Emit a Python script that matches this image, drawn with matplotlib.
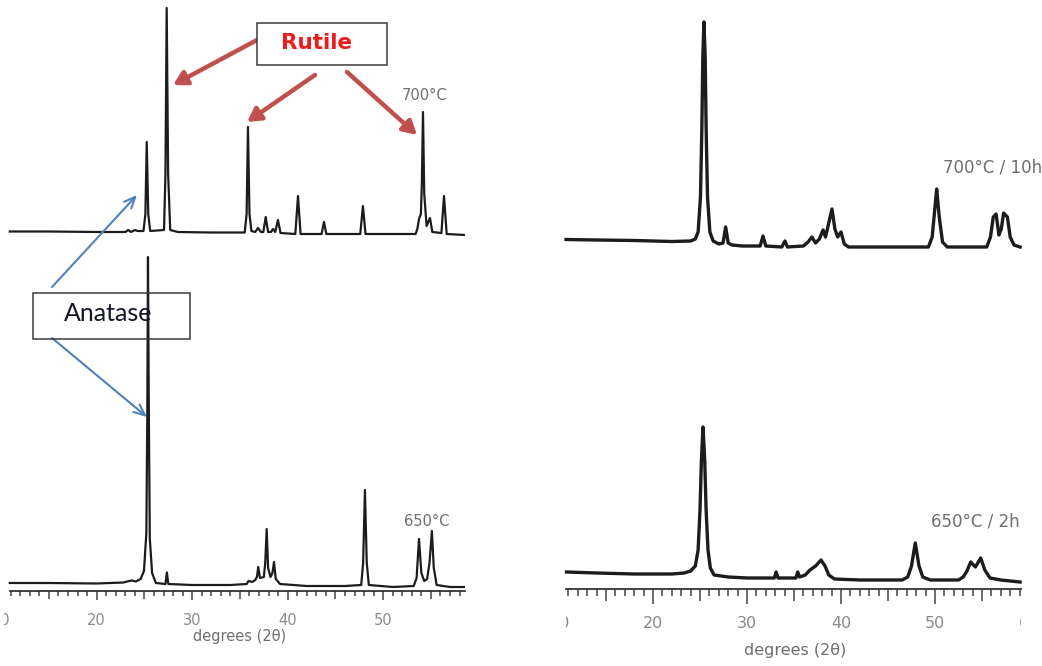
import matplotlib
matplotlib.use("Agg")
import matplotlib.pyplot as plt
import numpy as np
from matplotlib.patches import Rectangle
from matplotlib.ticker import FixedLocator, FixedFormatter
from matplotlib.transforms import Bbox, TransformedBbox

W, H = 1042, 666

# ---- data (2theta in degrees, intensity in arbitrary units) ----
# left panel, 700 C
left_700_x = [10.9, 15, 20, 23.0, 23.3, 23.6, 24.0, 24.3, 24.9, 25.1, 25.24, 25.4, 25.6,
              27.05, 27.2, 27.33, 27.48, 27.7, 28.5, 32, 35.5, 35.7, 35.84, 36.0, 36.2,
              36.6, 36.89, 37.2, 37.45, 37.7, 37.95, 38.25, 38.46, 38.7, 38.98, 39.25,
              40.8, 41.08, 41.35, 43.55, 43.8, 44.05, 47.6, 47.88, 48.15, 53.4, 53.6,
              53.75, 53.95, 54.05, 54.17, 54.3, 54.55, 54.9, 55.15, 56.1, 56.37, 56.65, 58.6]
left_700_y = [2.5, 2.5, 2, 2, 4, 2, 4, 3, 3, 20, 92, 20, 3,
              4, 60, 226, 60, 4, 2, 1.5, 1.5, 20, 107, 20, 3,
              2, 6, 2, 2, 17, 2, 2, 5, 2, 14, 1,
              0, 38, 0, 0, 12, 0, 0, 28, 0, 0, 6,
              15, 20, 50, 122, 40, 8, 16, 2, 1, 38, 0, -1]

# left panel, 650 C
left_650_x = [10.9, 15, 20, 22.8, 23.4, 23.7, 24.1, 24.6, 24.95, 25.2, 25.3, 25.37, 25.46,
              25.56, 25.8, 26.2, 27.2, 27.35, 27.5, 30, 34, 35.7, 35.9, 36.3, 36.6, 36.78,
              36.92, 37.1, 37.5, 37.65, 37.8, 37.95, 38.2, 38.4, 38.57, 38.75, 39.2, 42, 46,
              47.7, 47.9, 48.09, 48.28, 48.5, 51, 53.2, 53.5, 53.75, 54.0, 54.3, 54.6, 54.85,
              55.1, 55.3, 55.6, 57, 58.6]
left_650_y = [0, 0, -0.5, 0.5, 2, 2.5, 1.5, 4, 12, 50, 170, 326, 170,
              45, 10, 0, -1, 10.5, -1, -2, -2, -1, 2, 1, 3, 6,
              16, 5, 6, 20, 54, 15, 6, 10, 21, 4, -1, -3, -3,
              -2, 20, 93, 20, -2, -4, -3, 5, 44, 10, 2, 4, 20,
              52, 15, -2, -4, -4]

# right panel, 700 C / 10 h
right_700_x = [10.75, 14, 18, 22, 24.0, 24.5, 24.8, 25.05, 25.2, 25.3, 25.42, 25.55, 25.65,
               25.8, 26.05, 26.4, 27.0, 27.45, 27.73, 28.0, 28.4, 29.5, 31.4, 31.7, 32.0,
               33.7, 34.04, 34.3, 36.0, 36.5, 36.9, 37.3, 37.7, 38.09, 38.35, 38.6, 39.04,
               39.35, 39.65, 40.0, 40.35, 40.8, 45, 49.3, 49.7, 50.0, 50.18, 50.45, 50.8,
               51.3, 55.5, 55.9, 56.2, 56.5, 56.8, 57.05, 57.3, 57.7, 58.0, 58.4, 59.05]
right_700_y = [7.5, 7, 6.5, 5.5, 6, 8, 15, 50, 120, 190, 225, 190, 120,
               50, 15, 6, 3, 4, 20, 4, 2, 1, 1, 11, 1,
               0, 6, 0, 1, 5, 10, 4, 8, 17, 10, 20, 38,
               18, 10, 15, 3, 0, 0, 0, 10, 40, 58, 30, 5,
               0, 0, 10, 30, 33, 12, 18, 34, 30, 10, 2, 0]

# right panel, 650 C / 2 h
right_650_x = [10.8, 14, 18, 22, 23.3, 24.0, 24.5, 24.8, 25.0, 25.15, 25.32, 25.5, 25.65,
               25.85, 26.1, 26.5, 28, 30, 32.9, 33.1, 33.3, 35.2, 35.4, 35.6, 36.2, 36.7,
               37.3, 37.87, 38.3, 38.7, 39.3, 42, 46.5, 47.1, 47.5, 47.9, 48.3, 48.7, 49.5,
               52.5, 53.0, 53.4, 53.8, 54.3, 54.86, 55.3, 55.85, 57, 59.05]
right_650_y = [8, 7, 6, 6, 7, 9, 14, 30, 70, 120, 153, 120, 70,
               30, 12, 5, 3, 2, 2, 8, 2, 2, 8, 3, 5, 10,
               14, 20, 14, 5, 1, 0, 0, 3, 14, 37, 14, 3, 0,
               0, 3, 9, 18, 13, 22, 10, 2, 0, -2]

left_labels = ["700°C", "650°C"]
right_labels = ["700°C / 10h", "650°C / 2h"]
major_ticks = [10, 20, 30, 40, 50, 60]
minor_ticks = [t for t in range(11, 60) if t % 10 != 0]

LINE = "#1c1c1c"
GREY_TXT = "#6e6e6e"
TICK_TXT = "#8a8a8a"
RED_ARROW = "#c0504d"
BLUE_ARROW = "#4f81bd"

fig = plt.figure(figsize=(W / 100, H / 100), dpi=100)
fig.patch.set_facecolor("white")


def px_rect(x0, x1, y_axis):
    # axes rectangle in figure fraction from pixel columns / axis row
    return [x0 / W, (H - y_axis) / H, (x1 - x0) / W, y_axis / H]


def style_axis(ax, x_lo, x_hi, spine_lo, spine_hi, lens, pad, fs):
    ax.set_xlim(x_lo, x_hi)
    for s in ["left", "right", "top"]:
        ax.spines[s].set_visible(False)
    ax.spines["bottom"].set_color("#333333")
    ax.spines["bottom"].set_linewidth(1.3)
    ax.spines["bottom"].set_bounds(spine_lo, spine_hi)
    ax.set_yticks([])
    ax.xaxis.set_major_locator(FixedLocator(major_ticks))
    ax.xaxis.set_major_formatter(FixedFormatter([str(t) for t in major_ticks]))
    ax.xaxis.set_minor_locator(FixedLocator([t for t in minor_ticks if spine_lo <= t <= spine_hi]))
    ax.tick_params(axis="x", which="major", direction="out", length=lens[0], width=1.1,
                   color="#444444", pad=pad, labelsize=fs, labelcolor=TICK_TXT)
    ax.tick_params(axis="x", which="minor", direction="out", length=lens[2], width=1.1,
                   color="#444444")
    locs = ax.xaxis.get_minorticklocs()
    for t, loc in zip(ax.xaxis.get_minor_ticks(len(locs)), locs):
        if round(loc) % 5 == 0:
            t.tick1line.set_markersize(lens[1])
    mlocs = ax.xaxis.get_majorticklocs()
    for t, loc in zip(ax.xaxis.get_major_ticks(len(mlocs)), mlocs):
        if loc < spine_lo or loc > spine_hi:
            t.tick1line.set_visible(False)


def clip_box(x0, x1):
    return TransformedBbox(Bbox([[x0 / W, 0], [x1 / W, 1]]), fig.transFigure)


# ---- left panel ----
axl = fig.add_axes(px_rect(1.2, 465.3, 591))
axl.set_ylim(0, 591)
axl.plot(left_700_x, np.array(left_700_y) + 357, color=LINE, lw=1.6)
axl.plot(left_650_x, np.array(left_650_y) + 8, color=LINE, lw=1.6)
style_axis(axl, 10, 58.6, 10.9, 58.6, (6.5, 6, 3.6), 9, 10.5)
for lab in axl.get_xticklabels():
    lab.set_clip_box(clip_box(4, 470))
    lab.set_clip_on(True)
axl.set_xlabel("degrees (2θ)", fontsize=10.5, color=GREY_TXT)
axl.xaxis.set_label_coords((240 - 1.2) / (465.3 - 1.2), -(636 - 591) / 591)
axl.xaxis.label.set_va("center")
axl.text((425 - 1.2) / (464.1), (666 - 95 - 75) / 591, left_labels[0],
         transform=axl.transAxes, ha="center", va="center", fontsize=10.5, color=GREY_TXT)
axl.text((427 - 1.2) / (464.1), (666 - 522 - 75) / 591, left_labels[1],
         transform=axl.transAxes, ha="center", va="center", fontsize=10.5, color=GREY_TXT)

# ---- right panel ----
axr = fig.add_axes(px_rect(559, 559 + 50.1 * 9.4, 589))
axr.set_ylim(0, 589)
axr.plot(right_700_x, np.array(right_700_y) + 342, color=LINE, lw=2.4)
axr.plot(right_650_x, np.array(right_650_y) + 9, color=LINE, lw=2.4)
style_axis(axr, 10, 60.1, 10.74, 59.15, (10.5, 8.5, 5), 9, 11.5)
for lab in axr.get_xticklabels():
    lab.set_clip_box(clip_box(566, 1021))
    lab.set_clip_on(True)
axr.set_xlabel("degrees (2θ)", fontsize=11.5, color=GREY_TXT)
axr.xaxis.set_label_coords((795 - 559) / (50.1 * 9.4), -(651 - 589) / 589)
axr.xaxis.label.set_va("center")
fig.text(943 / W, 1 - 168 / H, right_labels[0], ha="left", va="center",
         fontsize=12, color=GREY_TXT)
t2 = fig.text(931 / W, 1 - 522 / H, right_labels[1], ha="left", va="center",
              fontsize=12, color=GREY_TXT)
t2.set_clip_box(clip_box(0, 1021))
t2.set_clip_on(True)

# ---- annotations ----
def fpx(x, y):
    return (x, H - y)


rut = Rectangle((257 / W, 1 - 65 / H), 130 / W, 42 / H, transform=fig.transFigure,
                facecolor="white", edgecolor="#3a3a3a", lw=1.1, zorder=6)
fig.add_artist(rut)
fig.text(317 / W, 1 - 43 / H, "Rutile", ha="center", va="center", fontsize=15.5,
         fontweight="bold", color="#ee1c1c", zorder=7)

ana = Rectangle((33 / W, 1 - 339 / H), 157 / W, 46 / H, transform=fig.transFigure,
                fill=False, edgecolor="#3a3a3a", lw=1.1, zorder=6)
fig.add_artist(ana)
fig.text(108 / W, 1 - 314 / H, "Anatase", ha="center", va="center", fontsize=18,
         family=["Lato", "DejaVu Sans"], color="#15152a", zorder=7)

for (x0, y0), (x1, y1) in [((257, 40), (173, 85)), ((315, 75), (247, 122)),
                           ((347, 72), (417, 135))]:
    axl.annotate("", xy=fpx(x1, y1), xytext=fpx(x0, y0), xycoords="figure pixels",
                 textcoords="figure pixels", annotation_clip=False,
                 arrowprops=dict(arrowstyle="-|>,head_length=0.8,head_width=0.45",
                                 color=RED_ARROW, lw=3.2, shrinkA=0, shrinkB=0))

for (x0, y0), (x1, y1) in [((52, 287), (137, 195)), ((52, 338), (147, 417))]:
    axl.annotate("", xy=fpx(x1, y1), xytext=fpx(x0, y0), xycoords="figure pixels",
                 textcoords="figure pixels", annotation_clip=False,
                 arrowprops=dict(arrowstyle="->,head_length=0.8,head_width=0.35",
                                 color=BLUE_ARROW, lw=1.5, shrinkA=0, shrinkB=0))

fig.savefig("out.png", dpi=100)
